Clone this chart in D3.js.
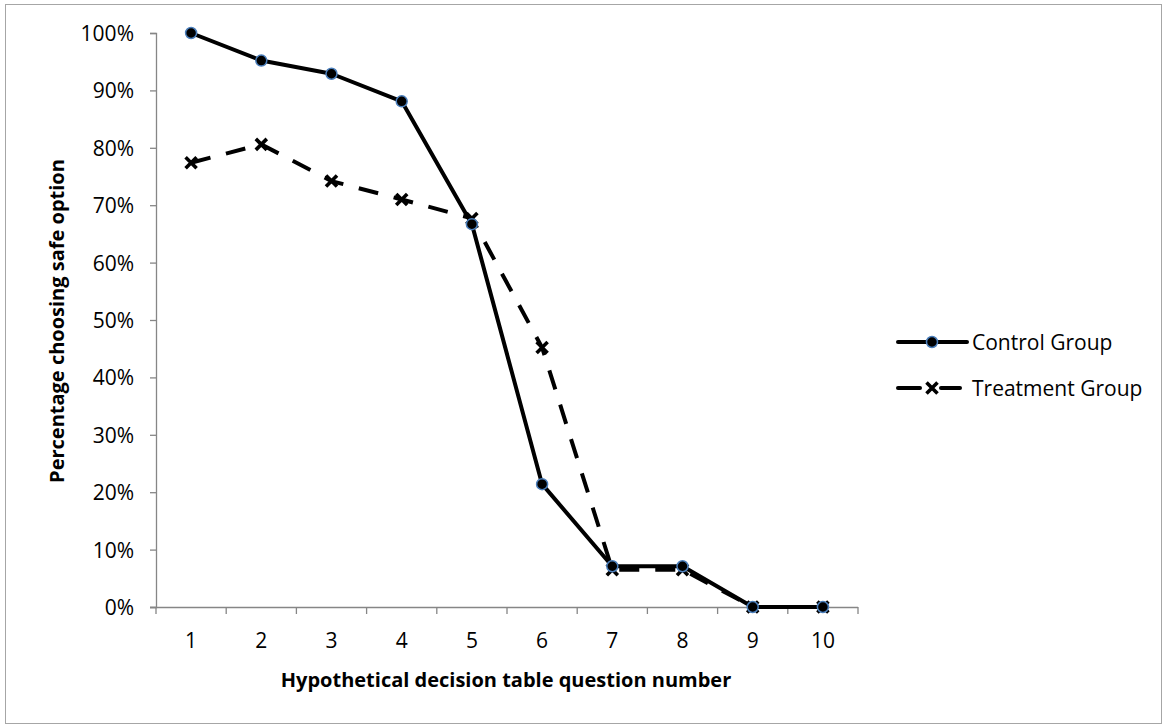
<!DOCTYPE html>
<html><head><meta charset="utf-8">
<script src="https://cdn.jsdelivr.net/npm/d3@7"></script>
<style>body{margin:0;background:#fff;} text{font-family:"Open Sans","Liberation Sans",sans-serif;}</style>
</head><body>
<svg id="c" width="1167" height="725"></svg>
<script>
const categories = ["1","2","3","4","5","6","7","8","9","10"];
const controlValues = [1.000, 0.952, 0.929, 0.881, 0.667, 0.214, 0.071, 0.071, 0, 0];
const treatmentValues = [0.774, 0.806, 0.742, 0.710, 0.677, 0.452, 0.065, 0.065, 0, 0];
const yTicks = [0,0.1,0.2,0.3,0.4,0.5,0.6,0.7,0.8,0.9,1.0];
const seriesNames = ["Control Group","Treatment Group"];

const svg = d3.select("#c");
svg.append("rect").attr("x",5.5).attr("y",4.5).attr("width",1156).attr("height",719)
  .attr("fill","#fff").attr("stroke","#a6a6a6").attr("stroke-width",1);

const L=156, R=858, T=33, B=607;
const x = d3.scaleBand().domain(categories).range([L,R]);
const y = d3.scaleLinear().domain([0,1]).range([B,T]);
const axisColor = "#868686";
const tickFont = "21px";

const yAxis = svg.append("g").attr("transform",`translate(${L},0)`)
  .call(d3.axisLeft(y).tickValues(yTicks).tickFormat(d3.format(".0%")).tickSize(6).tickPadding(16));
const xAxis = svg.append("g").attr("transform",`translate(0,${B})`)
  .call(d3.axisBottom(x).tickSize(0).tickPadding(26));
[yAxis,xAxis].forEach(g=>{
  g.attr("font-size",null).attr("font-family",null);
  g.selectAll("path").attr("stroke",axisColor).attr("stroke-width",1.3);
  g.selectAll("line").attr("stroke",axisColor).attr("stroke-width",1.3);
  g.selectAll("text").attr("fill","#000").style("font-size",tickFont);
});
yAxis.selectAll("text").attr("dy","0.36em");
xAxis.select("path").attr("d",`M${L-6},0.5H${R}`);
const bounds = categories.map(c=>x(c)).concat([x(categories[categories.length-1])+x.bandwidth()]);
xAxis.selectAll(".bt").data(bounds).enter().append("line")
  .attr("x1",d=>d).attr("x2",d=>d).attr("y1",0).attr("y2",7)
  .attr("stroke",axisColor).attr("stroke-width",1.3);

const cx = c => x(c)+x.bandwidth()/2;
const line = d3.line().x((d,i)=>cx(categories[i])).y(d=>y(d));

svg.append("path").datum(treatmentValues).attr("d",line).attr("fill","none")
  .attr("stroke","#000").attr("stroke-width",4).attr("stroke-dasharray","20,16");
svg.append("path").datum(controlValues).attr("d",line).attr("fill","none")
  .attr("stroke","#000").attr("stroke-width",4).attr("stroke-linejoin","round");

function drawX(g, px, py, s){
  g.append("path").attr("d",`M${px-s},${py-s}L${px+s},${py+s}M${px-s},${py+s}L${px+s},${py-s}`)
   .attr("stroke","#000").attr("stroke-width",3.6).attr("fill","none");
}
const tg = svg.append("g");
treatmentValues.forEach((v,i)=>drawX(tg, cx(categories[i]), y(v), 5.5));
svg.append("g").selectAll("circle").data(controlValues).enter().append("circle")
  .attr("cx",(d,i)=>cx(categories[i])).attr("cy",d=>y(d)).attr("r",5.5)
  .attr("fill","#000").attr("stroke","#4a7ebb").attr("stroke-width",1.5);

// legend
const lg = svg.append("g");
const ly=[342,388];
lg.append("line").attr("x1",898).attr("x2",967).attr("y1",ly[0]).attr("y2",ly[0]).attr("stroke","#000").attr("stroke-width",4).attr("stroke-linecap","round");
lg.append("circle").attr("cx",932).attr("cy",ly[0]).attr("r",5.5).attr("fill","#000").attr("stroke","#4a7ebb").attr("stroke-width",1.5);
lg.append("line").attr("x1",898).attr("x2",920).attr("y1",ly[1]).attr("y2",ly[1]).attr("stroke","#000").attr("stroke-width",4).attr("stroke-linecap","round");
lg.append("line").attr("x1",941).attr("x2",960).attr("y1",ly[1]).attr("y2",ly[1]).attr("stroke","#000").attr("stroke-width",4).attr("stroke-linecap","round");
drawX(lg,932,ly[1],5.5);
seriesNames.forEach((n,i)=>lg.append("text").attr("x",972).attr("y",ly[i]).attr("dy","0.36em")
  .style("font-size",tickFont).text(n));

// axis titles
svg.append("text").attr("x",506).attr("y",687).attr("text-anchor","middle")
  .style("font-size","20px").style("font-weight","bold").text("Hypothetical decision table question number");
svg.append("text").attr("transform",`translate(64,321) rotate(-90)`).attr("text-anchor","middle")
  .style("font-size","20px").style("font-weight","bold").text("Percentage choosing safe option");
</script>
</body></html>
